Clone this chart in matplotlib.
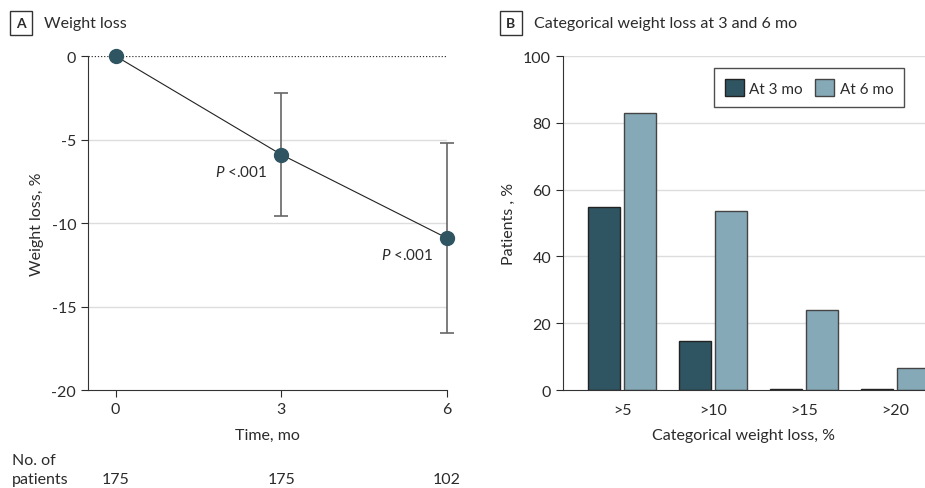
import matplotlib
matplotlib.use("Agg")
import matplotlib.pyplot as plt
import numpy as np

plt.rcParams['font.family'] = ['Lato', 'DejaVu Sans']
plt.rcParams['axes.unicode_minus'] = False
plt.rcParams['mathtext.fontset'] = 'custom'
plt.rcParams['mathtext.it'] = 'Lato:italic'
plt.rcParams['font.size'] = 11

# panel A data
months = [0, 3, 6]
weight_loss = [0.0, -5.9, -10.9]
weight_err = [0.0, 3.7, 5.7]
n_patients = [175, 175, 102]

# panel B data
categories = ['>5', '>10', '>15', '>20']
at_3mo = [54.7, 14.7, 0.4, 0.4]
at_6mo = [83.0, 53.5, 24.1, 6.5]

txt = '#2b2b2b'
dark = '#2f5562'
light = '#86a9b8'
grid = '#dddddd'

fig = plt.figure(figsize=(9.25, 4.89), dpi=100)

# ---- A ----
ax = fig.add_axes([0.0951, 0.2004, 0.388, 0.683])
for y in [-5, -10, -15]:
    ax.axhline(y, color=grid, lw=1, zorder=0)
ax.axhline(0, color='#333333', lw=0.9, ls=(0, (1, 1.5)), zorder=1)
ax.plot(months, weight_loss, color='#222222', lw=0.8, zorder=2, clip_on=False)
eb = ax.errorbar(months[1:], weight_loss[1:], yerr=weight_err[1:], fmt='none',
                 ecolor='#666666', elinewidth=1.2, capsize=5, capthick=1.2, zorder=2)
for part in eb.lines[1] + eb.lines[2]:
    part.set_clip_on(False)
ax.plot(months, weight_loss, 'o', color=dark, ms=10, zorder=3, clip_on=False)
for m, w in zip(months[1:], weight_loss[1:]):
    ax.annotate(r'$\mathit{P}$ <.001', (m, w), xytext=(-10, -12), textcoords='offset points',
                ha='right', va='center', color=txt, fontsize=11)
ax.set_xlim(-0.5, 6)
ax.set_ylim(-20, 0)
ax.set_xticks(months)
ax.set_yticks([0, -5, -10, -15, -20])
for s in ['top', 'right']:
    ax.spines[s].set_visible(False)
for s in ['left', 'bottom']:
    ax.spines[s].set_color('#333333')
ax.tick_params(colors=txt, labelsize=11.5, length=5)
ax.set_xlabel('Time, mo', color=txt, fontsize=11.5, labelpad=9)
ax.set_ylabel('Weight loss, %', color=txt, fontsize=11.5, labelpad=5)

fig.text(12 / 925, 1 - 461 / 489, 'No. of', color=txt, fontsize=11.5, va='center')
fig.text(12 / 925, 1 - 480 / 489, 'patients', color=txt, fontsize=11.5, va='center')
for m, n in zip(months, n_patients):
    ax.annotate(str(n), (m, 0), xycoords=('data', 'figure fraction'),
                xytext=(m, 1 - 480 / 489), textcoords=('data', 'figure fraction'),
                ha='center', va='center', color=txt, fontsize=11.5)

# ---- B ----
bx = fig.add_axes([0.6086, 0.2004, 0.3914, 0.683])
x = np.arange(len(categories))
w = 0.345
for y in [20, 40, 60, 80, 100]:
    bx.axhline(y, color=grid, lw=1, zorder=0)
bx.bar(x - w / 2 - 0.025, at_3mo, w, color=dark, edgecolor='#222222', lw=1, label='At 3 mo', zorder=2)
bx.bar(x + w / 2 + 0.025, at_6mo, w, color=light, edgecolor='#444444', lw=1, label='At 6 mo', zorder=2)
bx.set_xlim(-0.65, 3.33)
bx.set_ylim(0, 100)
bx.set_xticks(x)
bx.set_xticklabels(categories)
bx.set_yticks([0, 20, 40, 60, 80, 100])
for s in ['top', 'right']:
    bx.spines[s].set_visible(False)
for s in ['left', 'bottom']:
    bx.spines[s].set_color('#333333')
bx.tick_params(colors=txt, labelsize=11.5, length=5)
bx.tick_params(axis='x', length=0, pad=9)
bx.set_xlabel('Categorical weight loss, %', color=txt, fontsize=11.5, labelpad=8)
bx.set_ylabel('Patients , %', color=txt, fontsize=11.5, labelpad=5)
leg = bx.legend(loc='upper right', bbox_to_anchor=(0.942, 0.964), borderaxespad=0, ncol=2,
                frameon=True, fancybox=False, edgecolor='#222222', fontsize=11,
                handlelength=1.25, handleheight=1.4, columnspacing=0.8, handletextpad=0.35,
                borderpad=0.7)
leg.get_frame().set_linewidth(1)
for t in leg.get_texts():
    t.set_color(txt)

# panel tags
for xpos, tag, title in [(12, 'A', 'Weight loss'), (502, 'B', 'Categorical weight loss at 3 and 6 mo')]:
    fig.text(xpos / 925 + 0.0097, 1 - 24 / 489, tag, fontsize=10, fontweight='bold', color=txt,
             ha='center', va='center',
             bbox=dict(boxstyle='square,pad=0.45', fc='white', ec='#333333', lw=1))
    fig.text((xpos + 32) / 925, 1 - 24 / 489, title, fontsize=11.5, color=txt, va='center')

fig.savefig('out.png', dpi=100)
